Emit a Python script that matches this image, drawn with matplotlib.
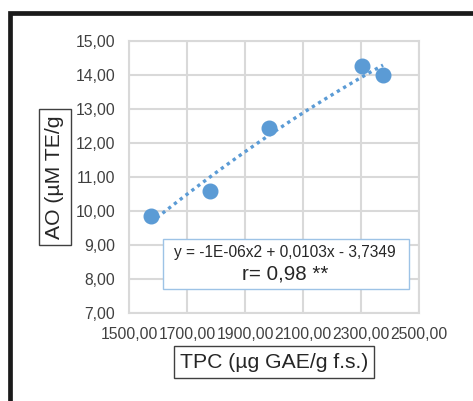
import numpy as np
import matplotlib.pyplot as plt
from matplotlib.patches import Rectangle
from matplotlib.ticker import FuncFormatter

plt.rcParams['font.family'] = ['Liberation Sans', 'DejaVu Sans']

# data
tpc = [1576, 1779, 1983, 2303, 2376]
ao = [9.84, 10.59, 12.43, 14.26, 14.00]
x_ticks = [1500, 1700, 1900, 2100, 2300, 2500]
y_ticks = [7, 8, 9, 10, 11, 12, 13, 14, 15]
eq_text = "y = -1E-06x2 + 0,0103x - 3,7349"
r_text = "r= 0,98 **"

W, H = 473, 401
fig = plt.figure(figsize=(W / 100, H / 100), dpi=100)

# black frame (cut off on right and bottom)
fig.patches.append(Rectangle((10 / W, -0.1), 1.2, (H - 12.5) / H + 0.1,
                             transform=fig.transFigure, fill=False,
                             edgecolor='#1a1a1a', linewidth=3.4))

ax = fig.add_axes([129 / W, 1 - 313 / H, 290 / W, 272 / H])
ax.set_xlim(1500, 2500)
ax.set_ylim(7, 15)
ax.set_xticks(x_ticks)
ax.set_yticks(y_ticks)
fmt = FuncFormatter(lambda v, p: f"{v:.2f}".replace('.', ','))
ax.xaxis.set_major_formatter(fmt)
ax.yaxis.set_major_formatter(fmt)
ax.tick_params(length=0, labelsize=11.3, colors='#404040')
ax.tick_params(axis='y', pad=10)
ax.tick_params(axis='x', pad=10)
ax.grid(color='#d9d9d9', linewidth=1.5)
ax.set_axisbelow(True)
for s in ax.spines.values():
    s.set_color('#d9d9d9')
    s.set_linewidth(1.5)

# polynomial trend line
c = np.polyfit(tpc, ao, 2)
xs = np.linspace(min(tpc), max(tpc), 100)
ax.plot(xs, np.polyval(c, xs), color='#5b9bd5', linewidth=2.4,
        linestyle=(0, (1, 1.2)), zorder=2)
ax.plot(tpc, ao, 'o', color='#5b9bd5', markersize=10.5, zorder=3)

# equation box
ax.add_patch(Rectangle((163 / W, 1 - 289 / H), (409 - 163) / W, 50 / H,
                       transform=fig.transFigure, facecolor='white',
                       edgecolor='#9dc3e6', linewidth=1, zorder=4))
fig.text(285 / W, 1 - 253 / H, eq_text, ha='center', va='center',
         fontsize=11.2, color='#262626', zorder=5)
fig.text(285 / W, 1 - 274 / H, r_text, ha='center', va='center',
         fontsize=14.8, color='#262626', zorder=5)

# axis title boxes
fig.text(274 / W, 1 - 362 / H, "TPC (µg GAE/g f.s.)", ha='center', va='center',
         fontsize=15.2, color='#262626',
         bbox=dict(boxstyle='square,pad=0.3', facecolor='white',
                   edgecolor='#404040', linewidth=1))
fig.text(55 / W, 1 - 177 / H, "AO (µM TE/g", ha='center', va='center',
         rotation=90, fontsize=15.2, color='#262626',
         bbox=dict(boxstyle='square,pad=0.3', facecolor='white',
                   edgecolor='#404040', linewidth=1))

fig.savefig('out.png', dpi=100)
